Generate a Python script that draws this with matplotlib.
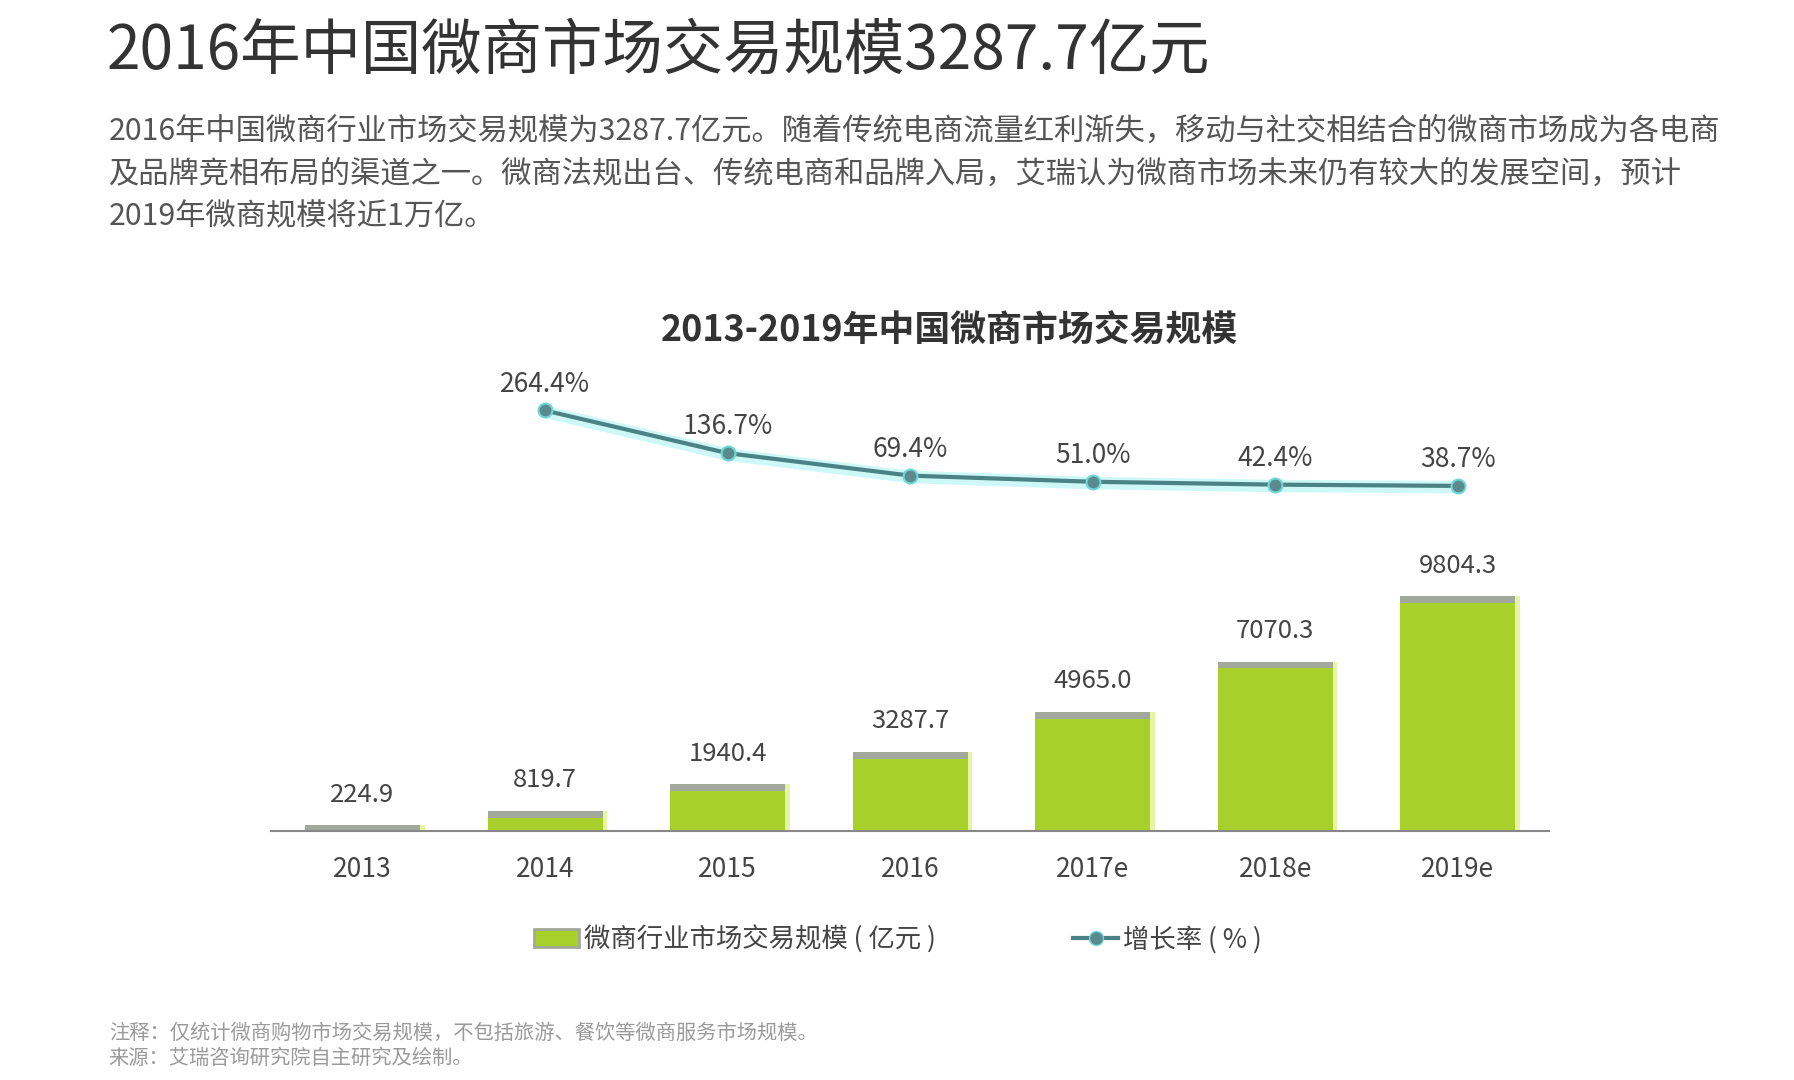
import matplotlib
matplotlib.use("Agg")
import matplotlib.pyplot as plt
from matplotlib.patches import Patch
from matplotlib.lines import Line2D

plt.rcParams['font.family'] = ['Noto Sans CJK SC', 'DejaVu Sans']

# 数据
years = ["2013", "2014", "2015", "2016", "2017e", "2018e", "2019e"]
scale = [224.9, 819.7, 1940.4, 3287.7, 4965.0, 7070.3, 9804.3]
growth_years = ["2014", "2015", "2016", "2017e", "2018e", "2019e"]
growth = [264.4, 136.7, 69.4, 51.0, 42.4, 38.7]

title = "2016年中国微商市场交易规模3287.7亿元"
para = ["2016年中国微商行业市场交易规模为3287.7亿元。随着传统电商流量红利渐失，移动与社交相结合的微商市场成为各电商",
        "及品牌竞相布局的渠道之一。微商法规出台、传统电商和品牌入局，艾瑞认为微商市场未来仍有较大的发展空间，预计",
        "2019年微商规模将近1万亿。"]
chart_title = "2013-2019年中国微商市场交易规模"
legend_bar = "微商行业市场交易规模 ( 亿元 )"
legend_line = "增长率 ( % )"
notes = ["注释：仅统计微商购物市场交易规模，不包括旅游、餐饮等微商服务市场规模。",
         "来源：艾瑞咨询研究院自主研究及绘制。"]

W, H = 1568, 944  # 参考图坐标


def fx(px):
    return px / W


def fy(py):
    return 1 - py / H


fig = plt.figure(figsize=(17.94, 10.8), dpi=100)
fig.patch.set_facecolor("white")

fig.text(fx(93), fy(45), title, fontsize=43.5, color="#333333", va="center",
         ha="left", fontweight="light")
for i, line in enumerate(para):
    fig.text(fx(95), fy(115 + i * 37.5), line, fontsize=21.8, color="#555555",
             va="center", ha="left")
fig.text(fx(830), fy(290), chart_title, fontsize=25.8, fontweight="bold",
         color="#333333", va="center", ha="center")

# 柱状图
x = list(range(len(years)))
ax = fig.add_axes([fx(237), fy(726), fx(1354) - fx(237), fy(436) - fy(726)])
ymax = 290 / 0.0209
ax.set_xlim(-0.5, 6.5)
ax.set_ylim(0, ymax)
bw = 0.63
# 光晕
ax.bar([xi + 0.025 for xi in x], scale, width=bw, color="#dcf27e", alpha=0.7, zorder=1)
ax.bar(x, scale, width=bw, color="#a8d02b", zorder=2)
strip = ymax * 0.02
ax.bar(x, [strip] * len(x), bottom=[v - strip for v in scale], width=bw,
       color="#a2a89c", zorder=3)
for xi, v in zip(x, scale):
    ax.annotate(f"{v:.1f}", (xi, v), xytext=(0, 22), textcoords="offset points",
                ha="center", va="center", fontsize=18.5, color="#444444")
for s in ["top", "right", "left"]:
    ax.spines[s].set_visible(False)
ax.spines["bottom"].set_color("#888888")
ax.spines["bottom"].set_linewidth(1.5)
ax.spines["bottom"].set_zorder(4)
ax.set_yticks([])
ax.set_xticks(x)
ax.set_xticklabels(years, fontsize=19, color="#444444")
ax.tick_params(axis="x", length=0, pad=18)
ax.patch.set_alpha(0)

# 增长率折线
lx = [years.index(y) for y in growth_years]
ax2 = fig.add_axes([fx(237), fy(436), fx(1354) - fx(237), fy(300) - fy(436)])
ax2.set_xlim(-0.5, 6.5)
ax2.set_ylim(0, 136 / 0.292)
ax2.plot(lx, [g - 4 for g in growth], color="#3ee6e6", linewidth=9, alpha=0.25,
         solid_capstyle="round")
ax2.plot(lx, growth, color="#4a8285", linewidth=3, marker="o", markersize=10,
         markerfacecolor="#5a8a8d", markeredgecolor="#6fd6d6", markeredgewidth=1.5)
for xi, g in zip(lx, growth):
    ax2.annotate(f"{g:.1f}%", (xi, g), xytext=(0, 19), textcoords="offset points",
                 ha="center", va="center", fontsize=19, color="#444444",
                 annotation_clip=False)
ax2.axis("off")

# 图例
handles = [Patch(facecolor="#a8d02b", edgecolor="#a2a89c", linewidth=2),
           Line2D([], [], color="#4a8285", linewidth=3, marker="o", markersize=10,
                  markerfacecolor="#5a8a8d", markeredgecolor="#6fd6d6")]
fig.legend(handles, [legend_bar, legend_line], loc="center", ncol=2,
           bbox_to_anchor=(fx(785), fy(821)), frameon=False, fontsize=19,
           handlelength=1.7, handleheight=0.7, handletextpad=0.2,
           columnspacing=5.2, labelcolor="#444444")

for i, n in enumerate(notes):
    fig.text(fx(95), fy(903 + i * 22), n, fontsize=14.6, color="#9a9a9a",
             va="center", ha="left")

fig.savefig("out.png", dpi=100, facecolor="white")
